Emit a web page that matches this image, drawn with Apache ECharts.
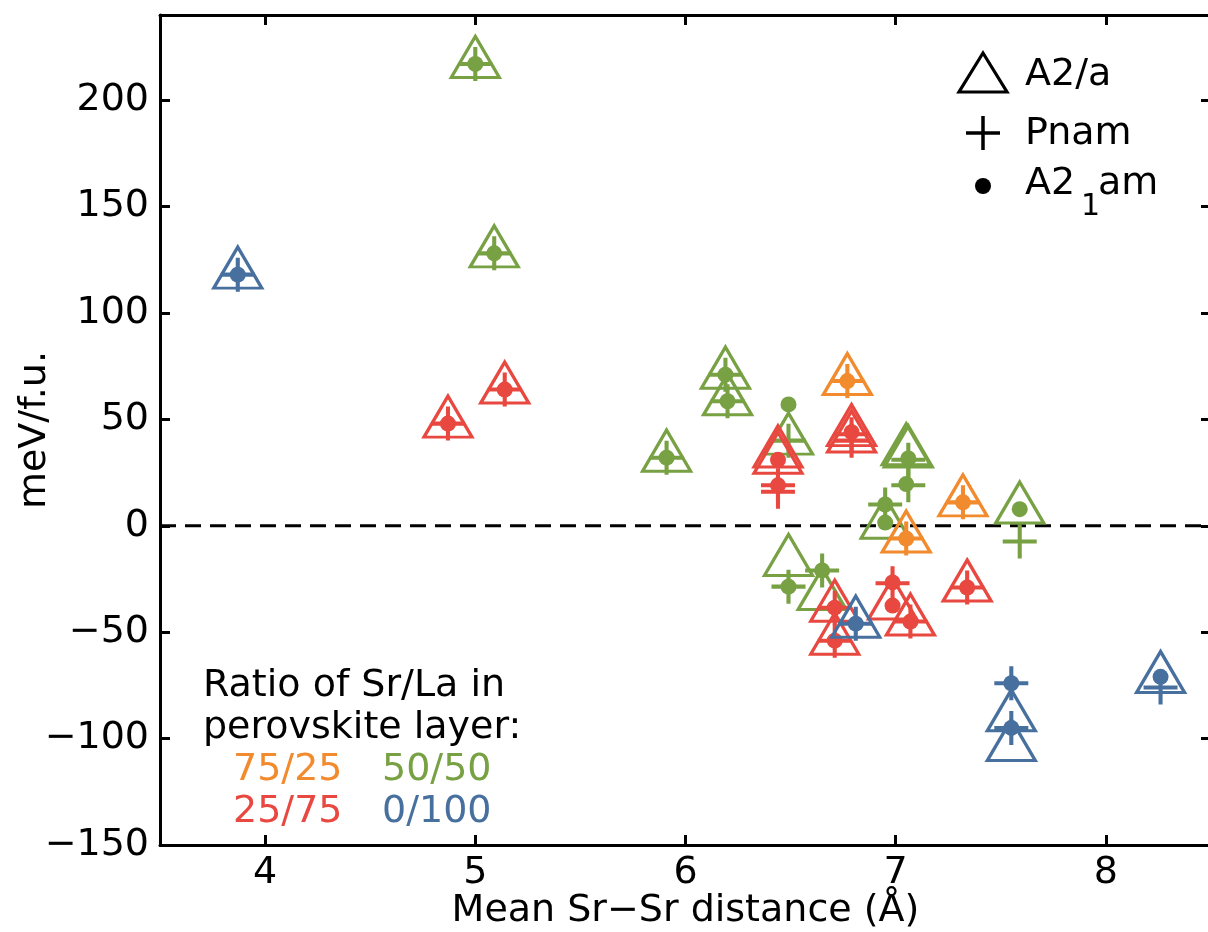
<!DOCTYPE html>
<html>
<head>
<meta charset="utf-8">
<script src="https://cdn.jsdelivr.net/npm/echarts@6/dist/echarts.min.js"></script>
<style>
html,body{margin:0;padding:0;background:#fff;}
#chart{width:1208px;height:932px;}
</style>
</head>
<body>
<div id="chart"></div>
<script>
// ---- tick values ----
const xTicks = [4, 5, 6, 7, 8];
const yTicks = [-150, -100, -50, 0, 50, 100, 150, 200];
const zeroLine = [[3.5, 0], [8.5, 0]];

// ---- data: [mean Sr-Sr distance (Å), energy (meV/f.u.)] ----
// 75/25 (orange)
const orangeA2a  = [[6.77, 68], [7.32, 11], [7.05, -6]];
const orangePnam = [[6.77, 68], [7.32, 11], [7.05, -6]];
const orangeA21am = [[6.77, 68], [7.32, 11], [7.05, -6]];
// 50/50 (green)
const greenA2a  = [[5.00, 217], [5.09, 128], [5.91, 32], [6.19, 71], [6.20, 58.5], [6.49, 40],
                   [7.05, 35], [7.06, 34], [6.95, 0.5], [7.59, 7.6], [6.49, -17], [6.65, -33]];
const greenPnam = [[5.00, 217], [5.09, 128], [5.91, 32], [6.19, 71], [6.20, 58.5], [6.49, 40],
                   [7.06, 31], [7.06, 19], [6.95, 10], [7.59, -7.4], [6.49, -28.6], [6.65, -21]];
const greenA21am = [[5.00, 217], [5.09, 128], [5.91, 32], [6.19, 71], [6.20, 58.5], [6.49, 57],
                    [7.06, 31.6], [7.05, 19.6], [6.95, 10], [6.95, 1.5], [7.59, 7.8], [6.49, -28.6], [6.65, -21]];
// 25/75 (red)
const redA2a  = [[4.87, 48], [5.14, 64], [6.79, 44], [6.79, 41], [6.44, 34], [6.44, 31],
                 [6.71, -38.5], [6.71, -54], [6.985, -37.5], [7.07, -45], [7.34, -29]];
const redPnam = [[4.87, 48], [5.14, 64], [6.79, 40], [6.79, 43], [6.44, 19], [6.44, 16],
                 [6.71, -38.5], [6.71, -54], [6.985, -27], [7.07, -45], [7.34, -29]];
const redA21am = [[4.87, 48], [5.14, 64], [6.79, 44], [6.44, 31], [6.44, 19],
                  [6.71, -38.5], [6.71, -54], [6.985, -26.6], [6.985, -37.5], [7.07, -45], [7.34, -29]];
// 0/100 (blue)
const blueA2a  = [[3.87, 118], [6.81, -46], [7.55, -90], [7.55, -104], [8.26, -72]];
const bluePnam = [[3.87, 118], [6.81, -46], [7.55, -74], [7.55, -95], [8.26, -76]];
const blueA21am = [[3.87, 118], [6.81, -46], [7.55, -74], [7.55, -95], [8.26, -71]];

const C = { orange: '#F28A2E', green: '#77A143', red: '#E8483F', blue: '#48709F' };
const FONT = '"DejaVu Sans", sans-serif';
const FS = 38;
const PLUS = 'path://M-1,-0.12 L1,-0.12 L1,0.12 L-1,0.12 Z M-0.12,-1 L0.12,-1 L0.12,1 L-0.12,1 Z';

function triSeries(name, data, color, z) {
  return { type: 'scatter', name, data, symbol: 'triangle', symbolSize: [48, 41], symbolOffset: [0, -7],
    itemStyle: { color: 'rgba(0,0,0,0)', borderColor: color, borderWidth: 3.2, opacity: 1 }, z, silent: true };
}
function plusSeries(name, data, color, z) {
  return { type: 'scatter', name, data, symbol: PLUS, symbolSize: 34,
    itemStyle: { color: color, opacity: 1 }, z, silent: true };
}
function dotSeries(name, data, color, z) {
  return { type: 'scatter', name, data, symbol: 'circle', symbolSize: 16,
    itemStyle: { color: color, opacity: 1 }, z, silent: true };
}

const groups = [
  ['50/50', greenA2a, greenPnam, greenA21am, C.green],
  ['75/25', orangeA2a, orangePnam, orangeA21am, C.orange],
  ['25/75', redA2a, redPnam, redA21am, C.red],
  ['0/100', blueA2a, bluePnam, blueA21am, C.blue]
];
const series = [{
  type: 'line', data: zeroLine, symbol: 'none', silent: true, z: 1,
  lineStyle: { color: '#000', width: 3, type: [16, 9] }
}];
groups.forEach((g, i) => {
  series.push(triSeries(g[0] + ' A2/a', g[1], g[4], 3 + i * 3));
  series.push(plusSeries(g[0] + ' Pnam', g[2], g[4], 4 + i * 3));
  series.push(dotSeries(g[0] + ' A21am', g[3], g[4], 5 + i * 3));
});

const tickStyle = { show: true, inside: true, length: 10, lineStyle: { color: '#000', width: 3 } };
const axisLineStyle = { show: true, onZero: false, lineStyle: { color: '#000', width: 3 } };
const fmtNum = v => (v < 0 ? '\u2212' + Math.abs(v) : String(v));

function txt(x, y, text, color) {
  return { type: 'text', x, y, style: { text, font: FS + 'px ' + FONT, fill: color || '#000', verticalAlign: 'middle', align: 'left' } };
}

const option = {
  animation: false,
  backgroundColor: '#fff',
  grid: { left: 160, top: 15, width: 1051, height: 830, containLabel: false, outerBoundsMode: 'none' },
  xAxis: [{
    type: 'value', min: 3.5, max: 8.5, position: 'bottom',
    axisLine: axisLineStyle,
    axisTick: Object.assign({ customValues: xTicks }, tickStyle),
    axisLabel: { customValues: xTicks, color: '#000', fontSize: FS, fontFamily: FONT, margin: 9 },
    splitLine: { show: false },
    name: 'Mean Sr\u2212Sr distance (\u00C5)', nameLocation: 'middle', nameGap: 47, nameMoveOverlap: false,
    nameTextStyle: { color: '#000', fontSize: FS, fontFamily: FONT }
  }, {
    type: 'value', min: 3.5, max: 8.5, position: 'top',
    axisLine: axisLineStyle,
    axisTick: Object.assign({ customValues: xTicks }, tickStyle),
    axisLabel: { show: false }, splitLine: { show: false }
  }],
  yAxis: [{
    type: 'value', min: -150, max: 240, position: 'left',
    axisLine: axisLineStyle,
    axisTick: Object.assign({ customValues: yTicks }, tickStyle),
    axisLabel: { customValues: yTicks, color: '#000', fontSize: FS, fontFamily: FONT, margin: 11, formatter: fmtNum },
    splitLine: { show: false },
    name: 'meV/f.u.', nameLocation: 'middle', nameGap: 106, nameRotate: 90, nameMoveOverlap: false,
    nameTextStyle: { color: '#000', fontSize: FS, fontFamily: FONT }
  }, {
    type: 'value', min: -150, max: 240, position: 'right',
    axisLine: axisLineStyle,
    axisTick: Object.assign({ customValues: yTicks }, tickStyle),
    axisLabel: { show: false }, splitLine: { show: false }
  }],
  graphic: [
    // symbol legend (top right)
    { type: 'polygon', shape: { points: [[983, 53], [1007, 92], [959, 92]] },
      style: { fill: 'none', stroke: '#000', lineWidth: 3.2 } },
    txt(1025, 75, 'A2/a'),
    { type: 'line', shape: { x1: 966, y1: 133, x2: 1000, y2: 133 }, style: { stroke: '#000', lineWidth: 3.5 } },
    { type: 'line', shape: { x1: 983, y1: 116, x2: 983, y2: 150 }, style: { stroke: '#000', lineWidth: 3.5 } },
    txt(1025, 134, 'Pnam'),
    { type: 'circle', shape: { cx: 983, cy: 186, r: 8 }, style: { fill: '#000' } },
    txt(1025, 184, 'A2'),
    { type: 'text', x: 1081, y: 207, style: { text: '1', font: '30px ' + FONT, fill: '#000', verticalAlign: 'middle', align: 'left' } },
    txt(1098, 184, 'am'),
    // ratio legend (bottom left)
    txt(203, 686, 'Ratio of Sr/La in'),
    txt(203, 728, 'perovskite layer:'),
    txt(233, 770, '75/25', C.orange),
    txt(382, 770, '50/50', C.green),
    txt(233, 812, '25/75', C.red),
    txt(382, 812, '0/100', C.blue)
  ],
  series
};

const chart = echarts.init(document.getElementById('chart'), null, { renderer: 'canvas' });
chart.setOption(option);
</script>
</body>
</html>
